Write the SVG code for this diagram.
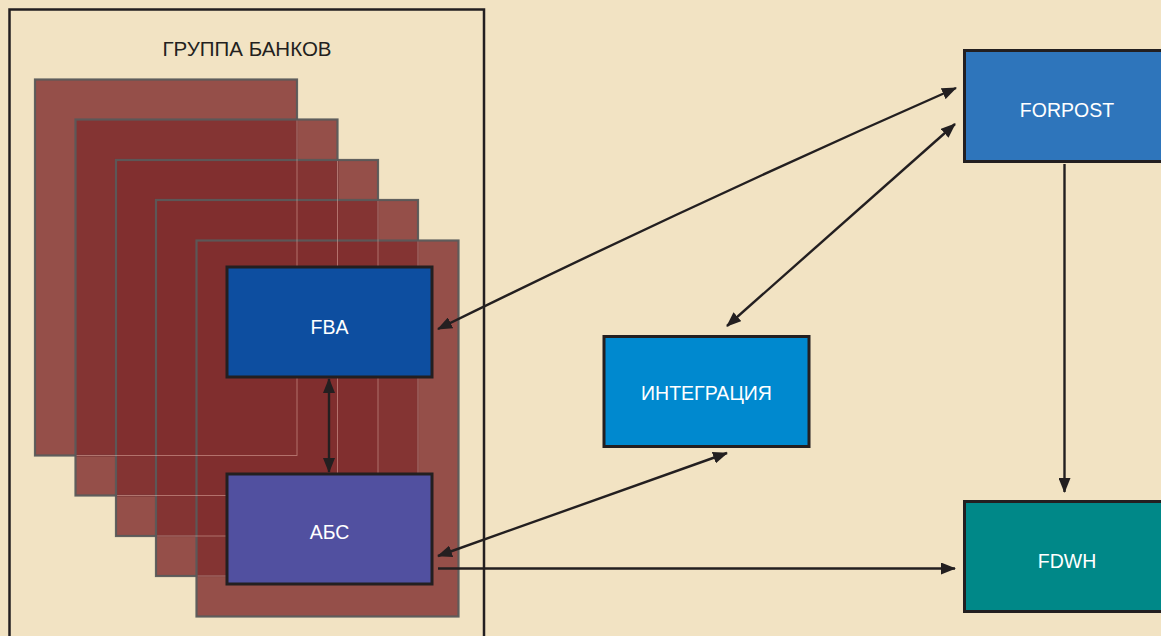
<svg xmlns="http://www.w3.org/2000/svg" width="1161" height="636" viewBox="0 0 1161 636">
<style>
.bank{fill:rgb(128,46,46);fill-opacity:0.82;stroke:#5a5a5a;stroke-width:2.2;stroke-opacity:0.95}
.edge{fill:none;stroke:#e0aaa2;stroke-width:0.9;stroke-opacity:0.6}
.box{stroke:#231f20;stroke-width:3}
.lbl{font-family:"Liberation Sans",Arial,sans-serif;font-size:19.5px;fill:#ffffff;text-anchor:middle;dominant-baseline:central}
.title{font-family:"Liberation Sans",Arial,sans-serif;font-size:20.5px;fill:#231f20;text-anchor:middle}
.conn{fill:none;stroke:#231f20;stroke-width:2.4}
</style>
<defs>
<marker id="ah" viewBox="0 0 15 12" refX="14" refY="6" markerWidth="15" markerHeight="12" markerUnits="userSpaceOnUse" orient="auto-start-reverse">
<path d="M0,0 L15,6 L0,12 Z" fill="#231f20"/>
</marker>
<clipPath id="c1"><rect x="76.6" y="120.6" width="259.8" height="373.8"/><rect x="117.1" y="161.1" width="259.8" height="373.8"/><rect x="157.1" y="201.1" width="259.8" height="373.8"/><rect x="197.6" y="241.6" width="259.8" height="373.8"/></clipPath>
<clipPath id="c2"><rect x="117.1" y="161.1" width="259.8" height="373.8"/><rect x="157.1" y="201.1" width="259.8" height="373.8"/><rect x="197.6" y="241.6" width="259.8" height="373.8"/></clipPath>
<clipPath id="c3"><rect x="157.1" y="201.1" width="259.8" height="373.8"/><rect x="197.6" y="241.6" width="259.8" height="373.8"/></clipPath>
<clipPath id="c4"><rect x="197.6" y="241.6" width="259.8" height="373.8"/></clipPath>
</defs>
<rect width="1161" height="636" fill="#f2e3c3"/>
<g id="group-frame">
<rect x="9.5" y="9.5" width="474.5" height="640" fill="none" stroke="#231f20" stroke-width="2.5"/>
<text class="title" x="247" y="56">ГРУППА БАНКОВ</text>
</g>
<g id="bank-stack">
<rect class="bank" x="35" y="79.5" width="262" height="376"/>
<rect class="bank" x="75.5" y="119.5" width="262" height="376"/>
<rect class="bank" x="116" y="160" width="262" height="376"/>
<rect class="bank" x="156" y="200" width="262" height="376"/>
<rect class="bank" x="196.5" y="240.5" width="262" height="376"/>
<rect class="edge" clip-path="url(#c1)" x="35" y="79.5" width="262" height="376"/>
<rect class="edge" clip-path="url(#c2)" x="75.5" y="119.5" width="262" height="376"/>
<rect class="edge" clip-path="url(#c3)" x="116" y="160" width="262" height="376"/>
<rect class="edge" clip-path="url(#c4)" x="156" y="200" width="262" height="376"/>
</g>
<g id="fba">
<rect class="box" x="227" y="267" width="205" height="110" fill="#0d4ea0"/>
<text class="lbl" x="329.5" y="327">FBA</text>
</g>
<g id="abs">
<rect class="box" x="227" y="474" width="205" height="110" fill="#5150a0"/>
<text class="lbl" x="329.5" y="532">АБС</text>
</g>
<g id="integration">
<rect class="box" x="604" y="336.5" width="205" height="110" fill="#0089cf"/>
<text class="lbl" x="706.5" y="393">ИНТЕГРАЦИЯ</text>
</g>
<g id="forpost">
<rect class="box" x="964.5" y="50.5" width="210" height="111" fill="#2e75bb"/>
<text class="lbl" x="1067" y="110">FORPOST</text>
</g>
<g id="fdwh">
<rect class="box" x="964.5" y="501.5" width="210" height="110" fill="#008888"/>
<text class="lbl" x="1067" y="561">FDWH</text>
</g>
<g id="connectors">
<path class="conn" d="M329,379 L329,472" marker-start="url(#ah)" marker-end="url(#ah)"/>
<path class="conn" d="M438,329 Q690,205 956,88" marker-start="url(#ah)" marker-end="url(#ah)"/>
<path class="conn" d="M727,326 L955,124" marker-start="url(#ah)" marker-end="url(#ah)"/>
<path class="conn" d="M438,556 L727,453" marker-start="url(#ah)" marker-end="url(#ah)"/>
<path class="conn" d="M438,568.5 L955,568.5" marker-end="url(#ah)"/>
<path class="conn" d="M1064.5,164 L1064.5,492" marker-end="url(#ah)"/>
</g>
</svg>
